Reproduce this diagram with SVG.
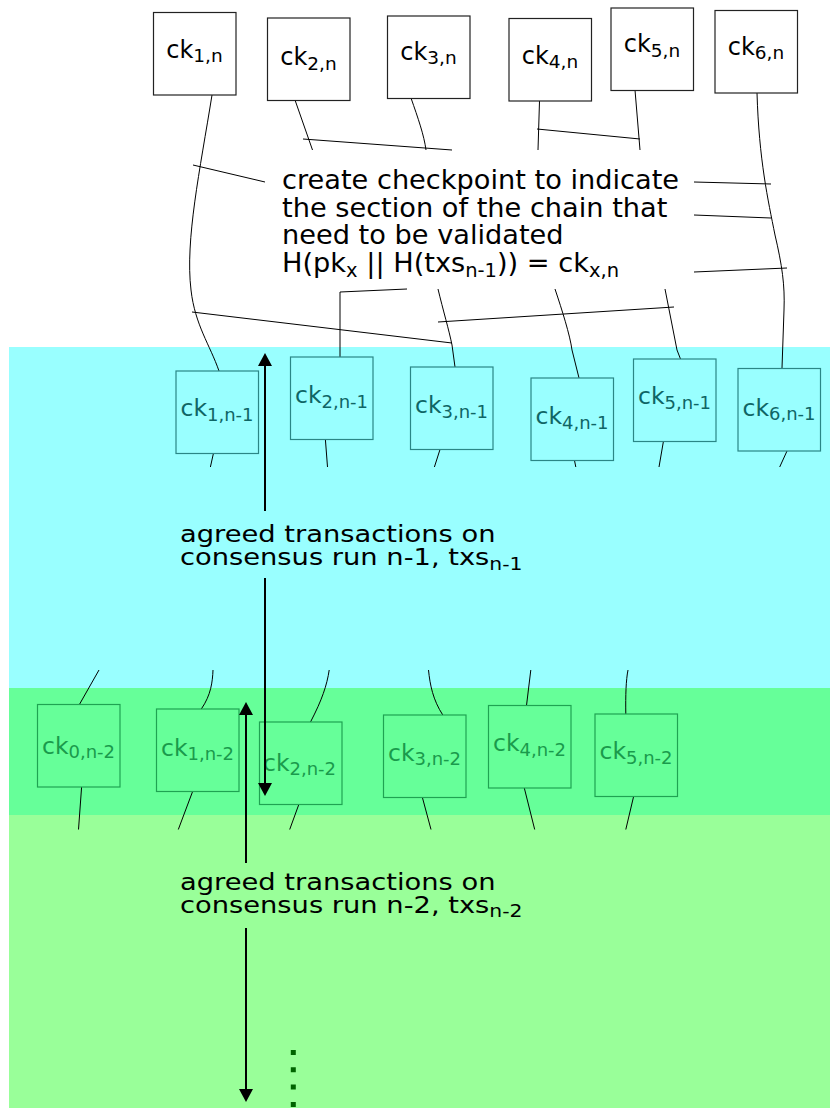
<svg xmlns="http://www.w3.org/2000/svg" width="830" height="1108" viewBox="0 0 830 1108">
<defs>
<style>
text{font-family:"DejaVu Sans","Liberation Sans",sans-serif}
.top rect{fill:#fff;stroke:#222;stroke-width:1.2}
.top text{fill:#000;font-size:24px;text-anchor:middle}
.cy rect{fill:#99ffff;stroke:#2b8686;stroke-width:1.2}
.cy text{fill:#0f6565;font-size:23.5px;text-anchor:middle}
.gr rect{fill:#66ff99;stroke:#1fa352;stroke-width:1.2}
.gr text{fill:#1a9a4c;font-size:23.5px;text-anchor:middle}
.sub{font-size:18.5px}
.sub2{font-size:18px}
.con path{fill:none;stroke:#000;stroke-width:1}
.arr{fill:none;stroke:#000;stroke-width:2}
.lbl{font-size:27.2px;fill:#000}
.lbl2{font-size:23.5px;fill:#000}
</style>
<marker id="ah" viewBox="0 0 13 14" refX="3" refY="7" markerWidth="13" markerHeight="14" markerUnits="userSpaceOnUse" orient="auto-start-reverse">
<path d="M0,0 L13,7 L0,14 z" fill="#000"/>
</marker>
</defs>

<g id="bands">
<rect x="9" y="347" width="821" height="341" fill="#99ffff"/>
<rect x="9" y="688" width="821" height="127" fill="#66ff99"/>
<rect x="9" y="815" width="821" height="293" fill="#99ff99"/>
</g>

<g id="connectors" class="con">
<path d="M212,95 C200,170 185,240 191,290 C195,325 210,345 219,371"/>
<path d="M193,165 L265,182"/>
<path d="M295,100 L312.5,150"/>
<path d="M303,139 L452,150"/>
<path d="M411,98 C418,118 424,135 426,150"/>
<path d="M539.5,101 L538,150"/>
<path d="M537,129 L640,139"/>
<path d="M635,90 L640,150"/>
<path d="M757,93 C759,160 768,200 775,235 C782,265 785,285 784,310 L782,368"/>
<path d="M694,182 L771,184"/>
<path d="M694,215 L771,218"/>
<path d="M694,272 L787,268"/>
<path d="M340,292 L407,289"/>
<path d="M340,292 L340,357"/>
<path d="M438,289 C443,310 449,330 452,345 L455,367"/>
<path d="M438,322 L674,307"/>
<path d="M555,289 C562,310 570,335 572,350 L579,378"/>
<path d="M665,289 L677,350 L680.5,359"/>
<path d="M192,312 L452,343"/>
<path d="M213.4,453.5 L210.4,467"/>
<path d="M325.4,439.5 L327.5,467"/>
<path d="M440,449.5 L434.4,467"/>
<path d="M574.5,460.5 L575.8,467"/>
<path d="M663.4,441.5 L659,467"/>
<path d="M787,451 L779.7,467"/>
<path d="M99,670 L79.4,704.5"/>
<path d="M213,670 C212.5,682 211,695 201.3,709"/>
<path d="M329.2,670 C327,685 322,700 310.5,722"/>
<path d="M428.5,670 C430,685 433,700 442.8,715"/>
<path d="M530.8,670 L526.5,705.5"/>
<path d="M628,670 C626,680 625.5,695 625.8,714"/>
<path d="M81.6,787 L78.5,829.5"/>
<path d="M192.6,791.5 L178.3,829.5"/>
<path d="M298.8,804.5 L289.7,829.5"/>
<path d="M422.4,797.5 L431,829.5"/>
<path d="M524.3,788 L534.7,829.5"/>
<path d="M633.6,796.5 L625.8,829.5"/>
</g>

<g id="node-ck1n" class="top"><rect x="153.5" y="12.5" width="82.5" height="82.5"/><text x="194.5" y="57.5">ck<tspan class="sub" dy="4.5">1,n</tspan></text></g>
<g id="node-ck2n" class="top"><rect x="267.5" y="18" width="82.5" height="82.5"/><text x="308.5" y="65">ck<tspan class="sub" dy="4.5">2,n</tspan></text></g>
<g id="node-ck3n" class="top"><rect x="387.5" y="16" width="82.5" height="82.5"/><text x="428.5" y="59.5">ck<tspan class="sub" dy="4.5">3,n</tspan></text></g>
<g id="node-ck4n" class="top"><rect x="509" y="18.5" width="82.5" height="82.5"/><text x="550" y="63.5">ck<tspan class="sub" dy="4.5">4,n</tspan></text></g>
<g id="node-ck5n" class="top"><rect x="611" y="8" width="82.5" height="82.5"/><text x="652" y="52">ck<tspan class="sub" dy="4.5">5,n</tspan></text></g>
<g id="node-ck6n" class="top"><rect x="715" y="10.5" width="82.5" height="82.5"/><text x="756" y="54.5">ck<tspan class="sub" dy="4.5">6,n</tspan></text></g>

<g id="node-ck1n1" class="cy"><rect x="176" y="371" width="82.5" height="82.5"/><text x="217" y="416">ck<tspan class="sub2" dy="4.5">1,n-1</tspan></text></g>
<g id="node-ck2n1" class="cy"><rect x="290.5" y="357" width="82.5" height="82.5"/><text x="331.5" y="403">ck<tspan class="sub2" dy="4.5">2,n-1</tspan></text></g>
<g id="node-ck3n1" class="cy"><rect x="410.5" y="367" width="82.5" height="82.5"/><text x="451.5" y="413">ck<tspan class="sub2" dy="4.5">3,n-1</tspan></text></g>
<g id="node-ck4n1" class="cy"><rect x="531" y="378" width="82.5" height="82.5"/><text x="572" y="424">ck<tspan class="sub2" dy="4.5">4,n-1</tspan></text></g>
<g id="node-ck5n1" class="cy"><rect x="633.5" y="359" width="82.5" height="82.5"/><text x="674.5" y="404">ck<tspan class="sub2" dy="4.5">5,n-1</tspan></text></g>
<g id="node-ck6n1" class="cy"><rect x="738" y="368.5" width="82.5" height="82.5"/><text x="779" y="415.5">ck<tspan class="sub2" dy="4.5">6,n-1</tspan></text></g>

<g id="node-ck0n2" class="gr"><rect x="37.5" y="704.5" width="82.5" height="82.5"/><text x="78.5" y="753.5">ck<tspan class="sub2" dy="4.5">0,n-2</tspan></text></g>
<g id="node-ck1n2" class="gr"><rect x="156.5" y="709" width="82.5" height="82.5"/><text x="197.5" y="755.5">ck<tspan class="sub2" dy="4.5">1,n-2</tspan></text></g>
<g id="node-ck2n2" class="gr"><rect x="259.5" y="722" width="82.5" height="82.5"/><text x="299.5" y="770.5">ck<tspan class="sub2" dy="4.5">2,n-2</tspan></text></g>
<g id="node-ck3n2" class="gr"><rect x="383.5" y="715" width="82.5" height="82.5"/><text x="424.5" y="760.5">ck<tspan class="sub2" dy="4.5">3,n-2</tspan></text></g>
<g id="node-ck4n2" class="gr"><rect x="488.5" y="705.5" width="82.5" height="82.5"/><text x="529.5" y="751">ck<tspan class="sub2" dy="4.5">4,n-2</tspan></text></g>
<g id="node-ck5n2" class="gr"><rect x="595" y="714" width="82.5" height="82.5"/><text x="636" y="759">ck<tspan class="sub2" dy="4.5">5,n-2</tspan></text></g>

<g id="arrows">
<path class="arr" d="M265,363 V511" marker-start="url(#ah)"/>
<path class="arr" d="M265,578 V786" marker-end="url(#ah)"/>
<path class="arr" d="M246,712 V863" marker-start="url(#ah)"/>
<path class="arr" d="M246,928 V1092" marker-end="url(#ah)"/>
<path d="M293.3,1050 V1108" fill="none" stroke="#006400" stroke-width="5" stroke-dasharray="5 12.3"/>
</g>

<g id="label-checkpoint">
<text class="lbl" x="282" y="188.5">create checkpoint to indicate</text>
<text class="lbl" x="282" y="216.5">the section of the chain that</text>
<text class="lbl" x="282" y="244">need to be validated</text>
<text class="lbl" x="282" y="272">H(pk<tspan font-size="19.5" dy="5">x</tspan><tspan dy="-5"> || H(txs</tspan><tspan font-size="19.5" dy="5">n-1</tspan><tspan dy="-5">)) = ck</tspan><tspan font-size="19.5" dy="5">x,n</tspan></text>
</g>

<g id="label-n1" transform="translate(180,542) scale(1.163,1)">
<text class="lbl2" x="0" y="0">agreed transactions on</text>
<text class="lbl2" x="0" y="23.5">consensus run n-1, txs<tspan font-size="17.5" dy="4.5">n-1</tspan></text>
</g>

<g id="label-n2" transform="translate(180,889.5) scale(1.163,1)">
<text class="lbl2" x="0" y="0">agreed transactions on</text>
<text class="lbl2" x="0" y="23.5">consensus run n-2, txs<tspan font-size="17.5" dy="4.5">n-2</tspan></text>
</g>
</svg>
